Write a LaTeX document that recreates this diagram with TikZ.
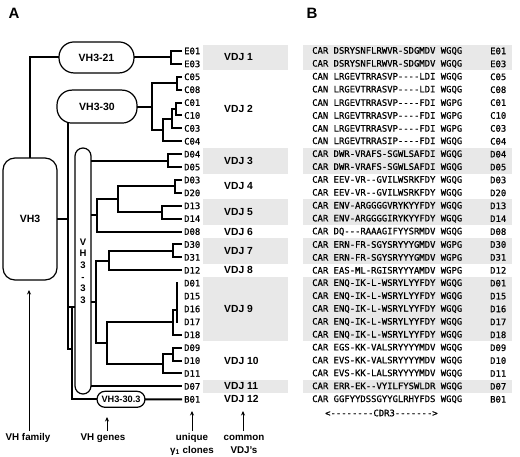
\documentclass[tikz,border=0pt]{standalone}
\usepackage{fontspec}
\setmainfont{Liberation Sans}
\setmonofont{DejaVu Sans Mono}[FakeBold=0.7]
\usetikzlibrary{arrows.meta}
\definecolor{bandgray}{gray}{0.91}
\begin{document}
\begin{tikzpicture}[x=1pt,y=-1pt,
  tree/.style={line width=2pt, line cap=rect},
  gbox/.style={draw, line width=1.2pt, rounded corners=#1, inner sep=0pt, font=\bfseries\fontsize{10.5}{12}\selectfont},
  clone/.style={font=\ttfamily\fontsize{8.9}{10}\selectfont, anchor=west, inner xsep=3pt, inner ysep=0pt},
  seq/.style={font=\ttfamily\fontsize{8.9}{10}\selectfont, anchor=west, inner sep=0pt},
  vdj/.style={font=\bfseries\fontsize{10.3}{12}\selectfont, anchor=west, inner sep=0pt},
  lab/.style={font=\bfseries\fontsize{9.8}{13}\selectfont, inner sep=0pt},
  arr/.style={-{Stealth[length=4.5pt,width=4pt]}, line width=0.9pt},
  panel/.style={font=\bfseries\fontsize{15}{18}\selectfont, inner sep=0pt}]
\useasboundingbox (0,0) rectangle (520,457);

% shaded bands
\foreach \a/\b in {0/1,8/9,12/13,15/16,18/22,26/26} {
  \fill[bandgray] (203,{51+12.9*\a-6.45}) rectangle (288,{51+12.9*\b+6.45});
  \fill[bandgray] (303,{51+12.9*\a-6.45}) rectangle (512,{51+12.9*\b+6.45});
}

\node[panel] (pA) at (14,13) {A};
\node[panel] (pB) at (312,13) {B};

% clones and sequences
\foreach \id/\sq [count=\i from 0] in {
  E01/CAR DSRYSNFLRWVR-SDGMDV WGQG,
  E03/CAR DSRYSNFLRWVR-SDGMDV WGQG,
  C05/CAN LRGEVTRRASVP----LDI WGQG,
  C08/CAN LRGEVTRRASVP----LDI WGQG,
  C01/CAN LRGEVTRRASVP----FDI WGPG,
  C10/CAN LRGEVTRRASVP----FDI WGPG,
  C03/CAN LRGEVTRRASVP----FDI WGPG,
  C04/CAN LRGEVTRRASIP----FDI WGQG,
  D04/CAR DWR-VRAFS-SGWLSAFDI WGQG,
  D05/CAR DWR-VRAFS-SGWLSAFDI WGQG,
  D03/CAR EEV-VR--GVILWSRKFDY WGQG,
  D20/CAR EEV-VR--GVILWSRKFDY WGQG,
  D13/CAR ENV-ARGGGGVRYKYYFDY WGQG,
  D14/CAR ENV-ARGGGGIRYKYYFDY WGQG,
  D08/CAR DQ---RAAAGIFYYSRMDV WGQG,
  D30/CAR ERN-FR-SGYSRYYYGMDV WGPG,
  D31/CAR ERN-FR-SGYSRYYYGMDV WGPG,
  D12/CAR EAS-ML-RGISRYYYAMDV WGPG,
  D01/CAR ENQ-IK-L-WSRYLYYFDY WGQG,
  D15/CAR ENQ-IK-L-WSRYLYYFDY WGQG,
  D16/CAR ENQ-IK-L-WSRYLYYFDY WGQG,
  D17/CAR ENQ-IK-L-WSRYLYYFDY WGQG,
  D18/CAR ENQ-IK-L-WSRYLYYFDY WGQG,
  D09/CAR EGS-KK-VALSRYYYYMDV WGQG,
  D10/CAR EVS-KK-VALSRYYYYMDV WGQG,
  D11/CAR EVS-KK-LALSRYYYYMDV WGQG,
  D07/CAR ERR-EK--VYILFYSWLDR WGQG,
  B01/CAR GGFYYDSSGYYGLRHYFDS WGQG} {
  \node[clone] (\id) at (181,{51+12.9*\i}) {\id};
  \node[seq] (seq\id) at (312,{51+12.9*\i}) {\sq};
  \node[seq] (idB\id) at (490,{51+12.9*\i}) {\id};
}
\node[seq] (cdr) at (325,413) {<--------CDR3------->};

% VDJ labels
\foreach \n/\y in {1/57.45,2/109.05,3/160.65,4/186.45,5/212.25,6/231.6,7/250.95,8/270.3,9/309,10/360.6,11/386.4,12/399.3}
  \node[vdj] (vdj\n) at (224,\y) {VDJ \n};

% gene boxes
\node[gbox=12pt, minimum width=54pt, minimum height=122pt] (VH3) at (30,219) {VH3};
\node[gbox=15pt, minimum width=75pt, minimum height=31pt] (VH321) at (96.5,57.45) {VH3-21};
\node[gbox=15pt, minimum width=80pt, minimum height=33pt] (VH330) at (97,106.6) {VH3-30};
\node[gbox=8pt, minimum width=16pt, minimum height=246pt, align=center, font=\bfseries\fontsize{9.5}{11.6}\selectfont] (VH333) at (83,271) {V\\H\\3\\-\\3\\3};
\node[gbox=8pt, minimum width=48pt, minimum height=16pt, font=\bfseries\fontsize{9.2}{11}\selectfont] (VH3303) at (121,399.3) {VH3-30.3};

% junction coordinates
\coordinate (jE) at (171,57.45);
\coordinate (jC58) at (177,83.25);
\coordinate (jC0110) at (176,109.05);
\coordinate (jC03) at (172,118.7);
\coordinate (jC04) at (163,130);
\coordinate (jC30) at (152,106.6);
\coordinate (tr) at (68,219);
\coordinate (trlow) at (68,349);
\coordinate (tr2top) at (72,307);
\coordinate (tr2low) at (72,349);
\coordinate (jD45) at (168,160.65);
\coordinate (jD320) at (175,186.45);
\coordinate (jD1314) at (162,212.25);
\coordinate (jB) at (118,199.35);
\coordinate (jA) at (97,215.5);
\coordinate (jD3031) at (173,250.95);
\coordinate (jC1) at (109,260.6);
\coordinate (bar) at (177,310);
\coordinate (jD18) at (173,322.5);
\coordinate (jD0910) at (173,354.15);
\coordinate (jD11) at (163,363.8);
\coordinate (jC2) at (107,343.15);
\coordinate (jC) at (96,301.9);

% VH3-21
\draw[tree] (VH3.north) |- (VH321.west);
\draw[tree] (VH321.east) -- (jE);
\draw[tree] (E01.west) -| (jE) |- (E03.west);
% VH3-30
\draw[tree] (VH330.east) -- (jC30);
\draw[tree] (jC58) -| (jC30) |- (jC04);
\draw[tree] (C05.west) -| (jC58) |- (C08.west);
\draw[tree] (jC03) -| (jC04) |- (C04.west);
\draw[tree] (jC0110) -| (jC03) |- (C03.west);
\draw[tree] (C01.west) -| (jC0110) |- (C10.west);
% trunk
\draw[tree] (VH3.east) -- (tr);
\draw[tree] (VH330.south -| tr) -- (trlow) -- (tr2low);
\draw[tree] (tr2top -| tr) -- (VH333.west |- tr2top);
\draw[tree] (tr2top) |- (VH3303.west);
\draw[tree] (VH3303.east) -- (B01.west);
% VH3-33
\draw[tree] (VH333.east |- jD45) -- (jD45);
\draw[tree] (D04.west) -| (jD45) |- (D05.west);
\draw[tree] (D03.west) -| (jD320) |- (D20.west);
\draw[tree] (D13.west) -| (jD1314) |- (D14.west);
\draw[tree] (jD320) -| (jB) |- (jD1314);
\draw[tree] (jB) -| (jA) |- (D08.west);
\draw[tree] (VH333.east |- jA) -- (jA);
\draw[tree] (D30.west) -| (jD3031) |- (D31.west);
\draw[tree] (jD3031) -| (jC1) |- (D12.west);
\draw[tree] (bar |- D01.west) -- (bar |- D17.west);
\draw[tree] (bar) -| (jD18) |- (D18.west);
\draw[tree] (D09.west) -| (jD0910) |- (D10.west);
\draw[tree] (jD0910) -| (jD11) |- (D11.west);
\draw[tree] (jD18) -| (jC2) |- (jD11);
\draw[tree] (jC1) -| (jC) |- (jC2);
\draw[tree] (VH333.east |- jC) -- (jC);
\draw[tree] (VH333.east |- D07.west) -- (D07.west);

% bottom labels and arrows
\node[lab] (famlab) at (28,438) {VH family};
\node[lab] (genlab) at (103,438) {VH genes};
\node[lab, align=center] (clolab) at (192,444) {unique\\γ\textsubscript{1} clones};
\node[lab, align=center] (vdjlab) at (244,444) {common\\VDJ's};
\coordinate (tailfam) at (29,431); \coordinate (tipfam) at (29,290);
\coordinate (tailgen) at (107,431); \coordinate (tipgen) at (107,417);
\coordinate (tailclo) at (192,431); \coordinate (tipclo) at (192,411);
\coordinate (tailvdj) at (243,431); \coordinate (tipvdj) at (243,411);
\draw[arr] (tailfam) -- (tipfam);
\draw[arr] (tailgen) -- (tipgen);
\draw[arr] (tailclo) -- (tipclo);
\draw[arr] (tailvdj) -- (tipvdj);
\end{tikzpicture}
\end{document}
